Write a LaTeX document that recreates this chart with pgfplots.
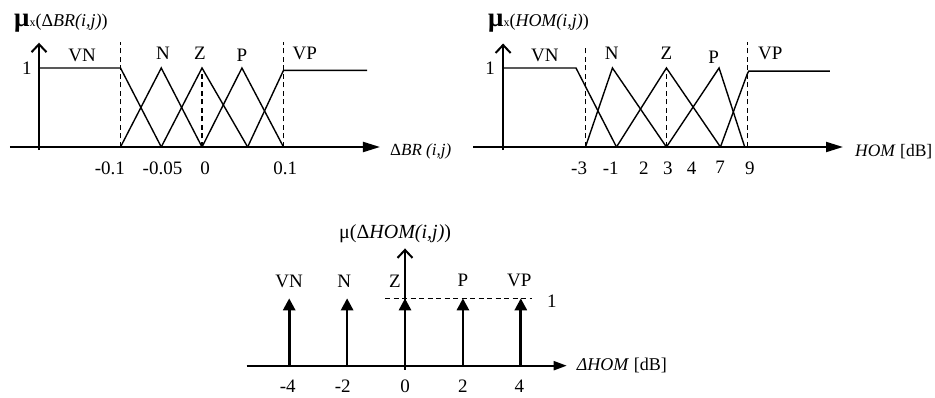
\documentclass[border=0pt]{standalone}
\usepackage{pgfplots}
\pgfplotsset{compat=1.18}
\usepackage{fontspec}
\setmainfont{Liberation Serif}
\usetikzlibrary{arrows.meta}
\newcommand\lbl{\fontsize{19}{19}\selectfont}
\begin{document}
\begin{tikzpicture}
\pgfplotsset{
  myaxis/.style={
    scale only axis, anchor=south west, enlargelimits=false, clip=false,
    axis x line=middle, axis y line=none,
    major tick length=0pt, xtick style={draw=none},
    ytick=\empty,
    xticklabel style={font=\lbl, yshift=-11pt},
  },
  fn/.style={black, line width=1.4pt, line join=miter},
  dsh/.style={black, line width=1.4pt, dash pattern=on 5pt off 3.5pt},
}
% ---------------- top left ----------------
\begin{axis}[myaxis, at={(10pt,226.3pt)}, width=370pt, height=134.3pt,
  xmin=-0.2356, xmax=0.2184, ymin=-0.3, ymax=1.4,
  x axis line style={black, line width=2pt, -{Triangle[length=17pt,width=10pt]}},
  xtick={-0.113,-0.0485,0.0037,0.102},
  xticklabels={-0.1,-0.05,0,0.1}]
\addplot[black, line width=2pt, -{Straight Barb[length=8pt,width=15pt]}] coordinates {(-0.2,-0.04) (-0.2,1.32)};
\addplot[fn] coordinates {(-0.2,1) (-0.1,1) (-0.05,0)};
\addplot[fn] coordinates {(-0.1,0) (-0.05,1) (0,0)};
\addplot[fn] coordinates {(-0.05,0) (0,1) (0.056,0)};
\addplot[fn] coordinates {(0,0) (0.049,1) (0.1,0)};
\addplot[fn] coordinates {(0.056,0) (0.1,0.97) (0.2025,0.97)};
\addplot[dsh] coordinates {(-0.1,0) (-0.1,1.33)};
\addplot[dsh] coordinates {(0,0) (0,1)};
\addplot[dsh] coordinates {(0.1,0) (0.1,1.33)};
\node[font=\lbl] at (axis cs:-0.147,1.165) {VN};
\node[font=\lbl] at (axis cs:-0.048,1.19) {N};
\node[font=\lbl] at (axis cs:-0.0025,1.19) {Z};
\node[font=\lbl] at (axis cs:0.049,1.165) {P};
\node[font=\lbl] at (axis cs:0.126,1.19) {VP};
\node[font=\lbl] at (axis cs:-0.215,1) {1};
\end{axis}
% ---------------- top right ----------------
\begin{axis}[myaxis, at={(473pt,226.3pt)}, width=370pt, height=134.3pt,
  xmin=-11.33, xmax=16.08, ymin=-0.3, ymax=1.4,
  x axis line style={black, line width=2pt, -{Triangle[length=17pt,width=10pt]}},
  xtick={-3.47,-1.13,1.33,3.1,4.87,6.97,9.19},
  xticklabels={-3,-1,2,3,4,7,9}]
\addplot[black, line width=2pt, -{Straight Barb[length=8pt,width=15pt]}] coordinates {(-9.1,-0.04) (-9.1,1.31)};
\addplot[fn] coordinates {(-9.1,1) (-3.7,1) (-0.7,0)};
\addplot[fn] coordinates {(-3,0) (-1,1) (3,0)};
\addplot[fn] coordinates {(-0.7,0) (3,1) (7,0)};
\addplot[fn] coordinates {(3,0) (6.9,1) (8.8,0)};
\addplot[fn] coordinates {(7,0) (9,0.93) (9.1,0.96) (15.1,0.96)};
\addplot[dsh] coordinates {(-3,0) (-3,1.25)};
\addplot[dsh] coordinates {(3,0) (3,1)};
\addplot[dsh] coordinates {(9,0) (9,1.33)};
\node[font=\lbl] at (axis cs:-6.0,1.165) {VN};
\node[font=\lbl] at (axis cs:-1.05,1.19) {N};
\node[font=\lbl] at (axis cs:3.0,1.19) {Z};
\node[font=\lbl] at (axis cs:6.5,1.14) {P};
\node[font=\lbl] at (axis cs:10.7,1.19) {VP};
\node[font=\lbl] at (axis cs:-10.07,1) {1};
\end{axis}
% ---------------- bottom ----------------
\begin{axis}[myaxis, at={(246.7pt,11.1pt)}, width=320pt, height=141.5pt,
  xmin=-5.468, xmax=5.585, ymin=-0.3, ymax=1.8,
  x axis line style={black, line width=2pt, -{Triangle[length=13pt,width=9pt]}},
  xtick={-4.05,-2.15,0,2,3.95},
  xticklabels={-4,-2,0,2,4}]
\addplot[black, line width=2pt, -{Straight Barb[length=8pt,width=15pt]}] coordinates {(0,-0.06) (0,1.74)};
\addplot[dsh] coordinates {(-0.69,1) (4.38,1)};
\addplot[black, line width=2.7pt, -{Triangle[length=12pt,width=12pt]}] coordinates {(-4,0) (-4,1)};
\addplot[black, line width=2.7pt, -{Triangle[length=12pt,width=12pt]}] coordinates {(-2,0) (-2,1)};
\addplot[black, line width=2.7pt, -{Triangle[length=12pt,width=12pt]}] coordinates {(0,0) (0,1)};
\addplot[black, line width=2.7pt, -{Triangle[length=12pt,width=12pt]}] coordinates {(2,0) (2,1)};
\addplot[black, line width=2.7pt, -{Triangle[length=12pt,width=12pt]}] coordinates {(4,0) (4,1)};
\node[font=\lbl] at (axis cs:-4,1.25) {VN};
\node[font=\lbl] at (axis cs:-2.1,1.25) {N};
\node[font=\lbl] at (axis cs:-0.35,1.25) {Z};
\node[font=\lbl] at (axis cs:2,1.27) {P};
\node[font=\lbl] at (axis cs:3.95,1.27) {VP};
\node[font=\lbl] at (axis cs:5.07,0.95) {1};
\end{axis}
% ---------------- titles and axis names ----------------
\node[anchor=base west, inner sep=0] at (14pt,370.3pt)
  {{\fontsize{27}{27}\selectfont\textbf{μ}}{\fontsize{12}{12}\selectfont x}{\fontsize{18}{18}\selectfont(Δ\textit{BR(i,j)})}};
\node[anchor=base west, inner sep=0] at (488pt,370.3pt)
  {{\fontsize{27}{27}\selectfont\textbf{μ}}{\fontsize{12}{12}\selectfont x}{\fontsize{18}{18}\selectfont(\textit{HOM(i,j)})}};
\node[anchor=base west, inner sep=0] at (339pt,158.7pt)
  {\fontsize{20}{20}\selectfont μ(Δ\textit{HOM(i,j)})};
\node[anchor=west, inner sep=0] at (390pt,245.3pt)
  {\fontsize{17}{17}\selectfont Δ\textit{BR (i,j)}};
\node[anchor=west, inner sep=0] at (855pt,245.5pt)
  {\fontsize{17.5}{17.5}\selectfont\textit{HOM} [dB]};
\node[anchor=west, inner sep=0] at (576.7pt,32pt)
  {\fontsize{18}{18}\selectfont\textit{ΔHOM} [dB]};
\pgfresetboundingbox
\path[use as bounding box] (0pt,0pt) rectangle (935pt,397pt);
\end{tikzpicture}
\end{document}
